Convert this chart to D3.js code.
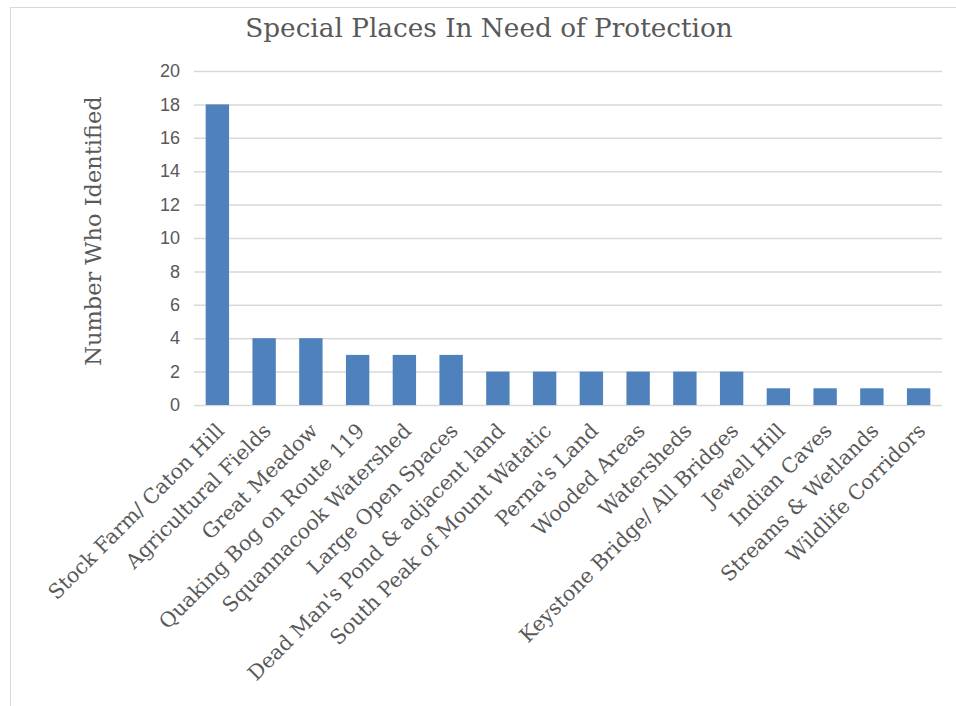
<!DOCTYPE html>
<html>
<head>
<meta charset="utf-8">
<script src="https://cdn.jsdelivr.net/npm/d3@7"></script>
<style>
  body { margin: 0; background: #fff; }
  svg text { fill: #595959; }
</style>
</head>
<body>
<div id="chart"></div>
<script>
var places = ["Stock Farm/ Caton Hill", "Agricultural Fields", "Great Meadow", "Quaking Bog on Route 119",
    "Squannacook Watershed", "Large Open Spaces", "Dead Man's Pond & adjacent land", "South Peak of Mount Watatic",
    "Perna's Land", "Wooded Areas", "Watersheds", "Keystone Bridge/ All Bridges", "Jewell Hill",
    "Indian Caves", "Streams & Wetlands", "Wildlife Corridors"];
var counts = [18, 4, 4, 3, 3, 3, 2, 2, 2, 2, 2, 2, 1, 1, 1, 1];
var yTicks = [0, 2, 4, 6, 8, 10, 12, 14, 16, 18, 20];

var width = 956, height = 706;
var plotLeft = 194, plotRight = 942, plotTop = 71, plotBottom = 405;
var serif = "'DejaVu Serif', serif", sans = "'Liberation Sans', Arial, sans-serif";

var svg = d3.select("#chart").append("svg")
    .attr("width", width)
    .attr("height", height);

// chart frame (cut off at right and bottom)
svg.append("rect")
    .attr("x", 10.5).attr("y", 7.5)
    .attr("width", 960).attr("height", 720)
    .attr("fill", "none")
    .attr("stroke", "#d9d9d9");

var x = d3.scaleBand().domain(places).range([plotLeft, plotRight]).paddingInner(0.5).paddingOuter(0.25);
var y = d3.scaleLinear().domain([0, 20]).range([plotBottom, plotTop]);

// gridlines + tick labels
var yAxis = svg.append("g")
    .attr("transform", "translate(" + plotLeft + ",0)")
    .call(d3.axisLeft(y).tickValues(yTicks).tickSize(-(plotRight - plotLeft)).tickPadding(14));
yAxis.select(".domain").remove();
yAxis.selectAll("line").attr("stroke", "#d9d9d9").attr("stroke-width", 1.5);
yAxis.selectAll("text")
    .style("font-family", sans)
    .style("font-size", "18px")
    .attr("fill", "#595959");

svg.selectAll(".bar")
    .data(counts)
    .enter().append("rect")
    .attr("class", "bar")
    .attr("x", function (d, i) { return x(places[i]); })
    .attr("width", x.bandwidth())
    .attr("y", function (d) { return y(d); })
    .attr("height", function (d) { return y(0) - y(d); })
    .attr("fill", "#4f81bd");

// category labels, rotated
svg.append("g").selectAll("text")
    .data(places).enter()
    .append("text")
    .attr("transform", function (d) {
        return "translate(" + (x(d) + x.bandwidth() / 2 + 3) + "," + (plotBottom + 22) + ") rotate(-45)";
    })
    .attr("text-anchor", "end")
    .attr("dy", "0.35em")
    .style("font-family", serif)
    .style("font-size", "20.5px")
    .text(function (d) { return d; });

svg.append("text")
    .attr("x", 489).attr("y", 37)
    .attr("text-anchor", "middle")
    .style("font-family", serif)
    .style("font-size", "26.3px")
    .text("Special Places In Need of Protection");

svg.append("text")
    .attr("transform", "translate(101," + 231 + ") rotate(-90)")
    .attr("text-anchor", "middle")
    .style("font-family", serif)
    .style("font-size", "22.5px")
    .text("Number Who Identified");
</script>
</body>
</html>
